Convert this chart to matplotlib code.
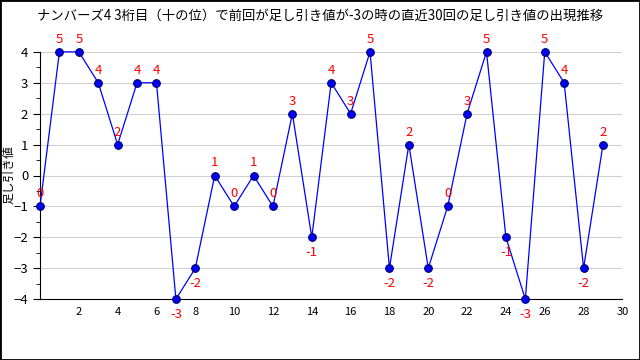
import matplotlib
matplotlib.use("Agg")
import matplotlib.pyplot as plt
from matplotlib.ticker import MultipleLocator
from matplotlib.patches import Rectangle

plt.rcParams["font.family"] = ["Noto Sans CJK JP", "DejaVu Sans"]

# draw order (0..29), plotted value and the annotated value
draws = list(range(30))
values = [-1, 4, 4, 3, 1, 3, 3, -4, -3, 0, -1, 0, -1, 2, -2, 3, 2, 4, -3, 1,
          -3, -1, 2, 4, -2, -4, 4, 3, -3, 1]
labels = [0, 5, 5, 4, 2, 4, 4, -3, -2, 1, 0, 1, 0, 3, -1, 4, 3, 5, -2, 2,
          -2, 0, 3, 5, -1, -3, 5, 4, -2, 2]
xticks = list(range(2, 31, 2))
title = "ナンバーズ4 3桁目（十の位）で前回が足し引き値が-3の時の直近30回の足し引き値の出現推移"

fig = plt.figure(figsize=(6.4, 3.6), dpi=100)
ax = fig.add_axes([0.0625, 0.169, 0.91, 0.687])

ax.plot(draws, values, color="blue", lw=0.9, marker="o", ms=5.5,
        mfc="blue", mec="#000066", mew=0.8, zorder=3, clip_on=False)

for x, v, lab in zip(draws, values, labels):
    off = -11 if lab < 0 else 9
    ax.annotate(str(lab), (x, v), xytext=(0, off), textcoords="offset points",
                ha="center", va="center", color="red", fontsize=9.5, zorder=4)

ax.set_xlim(0, 30)
ax.set_ylim(-4, 4)
ax.set_xticks(xticks)
ax.yaxis.set_major_locator(MultipleLocator(1))
ax.yaxis.set_minor_locator(MultipleLocator(0.5))
ax.tick_params(axis="x", length=0, labelsize=8, pad=6)
ax.tick_params(axis="y", which="major", length=5, labelsize=9.5)
ax.tick_params(axis="y", which="minor", length=3)
ax.grid(axis="y", color="#d0d0d0", lw=0.8)
ax.set_axisbelow(True)
for s in ["top", "right"]:
    ax.spines[s].set_visible(False)

fig.text(9 / 640, 1 - 175 / 360, "足し引き値", rotation=90, ha="center",
         va="center", fontsize=8.5)
fig.text(0.5, 0.955, title, ha="center", va="center", fontsize=9.6)

fig.patches.append(Rectangle((0, 0), 1, 1, transform=fig.transFigure,
                             fill=False, edgecolor="black", lw=2))

fig.savefig("out.png", dpi=100)
